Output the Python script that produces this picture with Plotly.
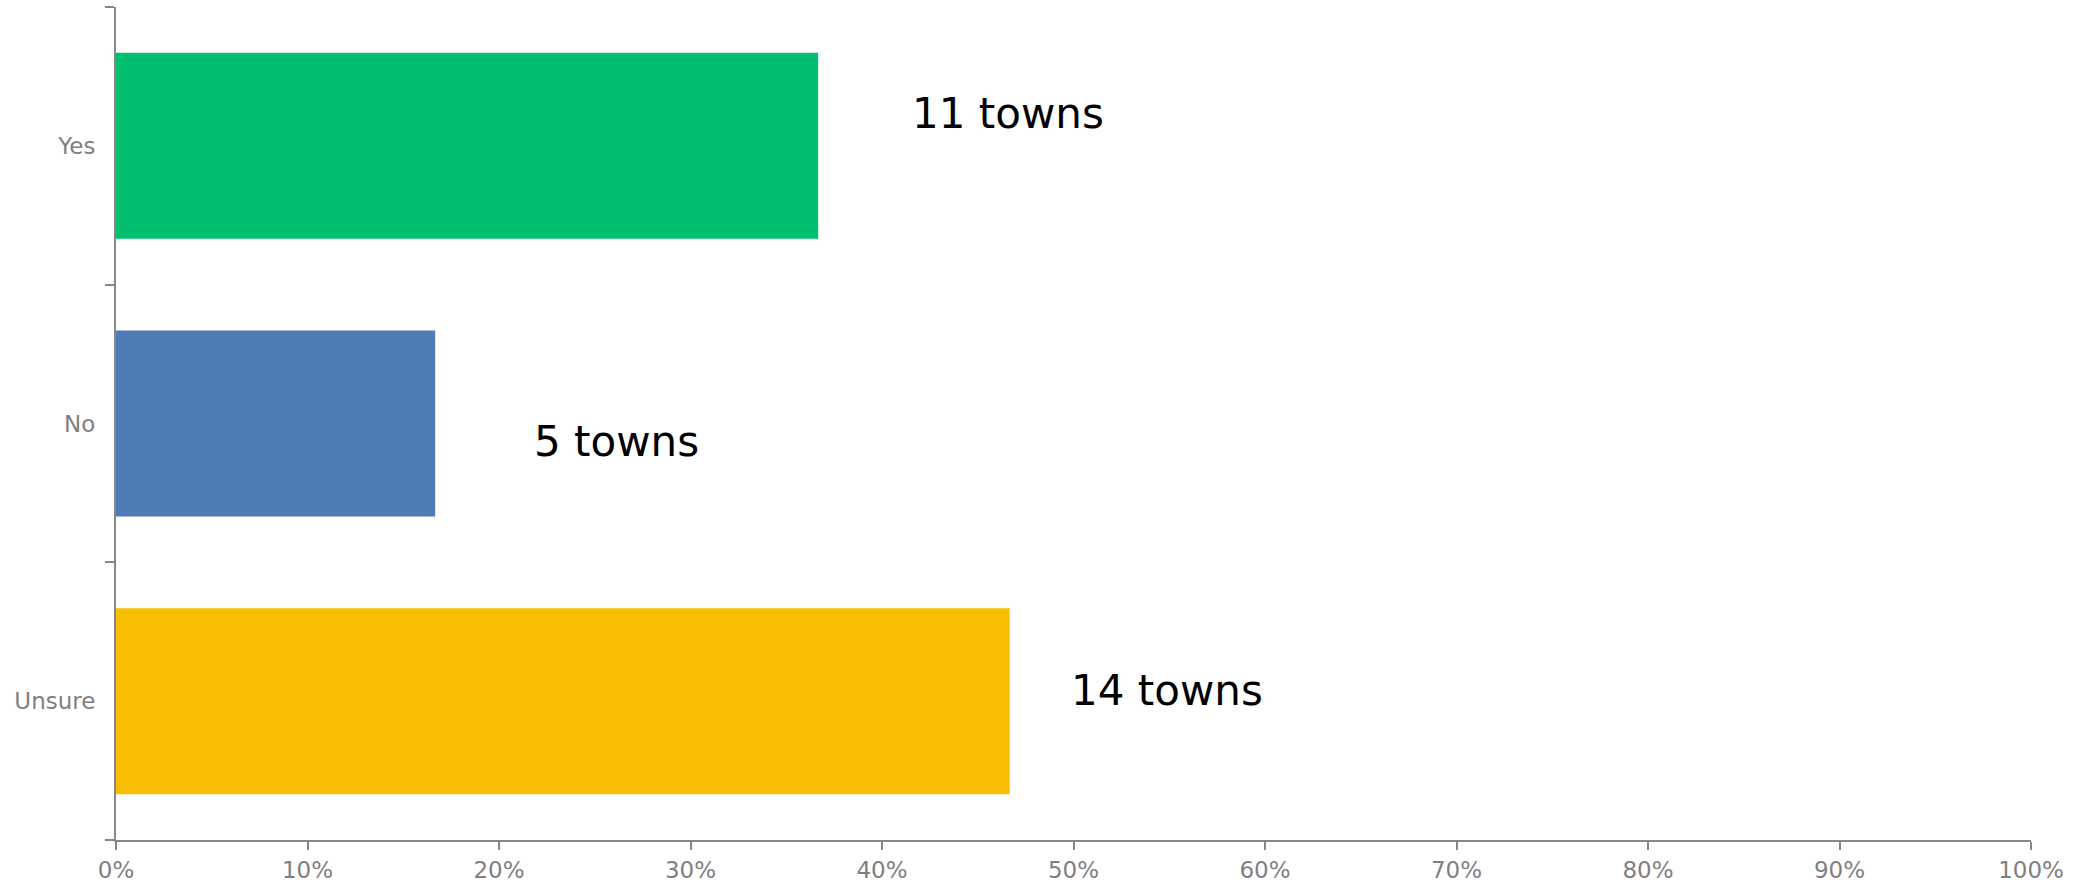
import plotly.graph_objects as go

# Survey answers and the number of towns giving each one
answers = ["Yes", "No", "Unsure"]
towns = [11, 5, 14]
bar_colors = ["#00BF6F", "#4F7CB6", "#F8BE00"]
total_towns = sum(towns)
shares = [t / total_towns for t in towns]

labels = [f"{t} towns" for t in towns]
# pixel offsets of each count label from the end of its bar
label_dx = [92, 97, 59]
label_dy = [32, -18, 11]

axis_grey = "#878787"
base_font = "DejaVu Sans, Liberation Sans, Arial, sans-serif"

fig = go.Figure(
    go.Bar(
        x=shares,
        y=answers,
        orientation="h",
        marker=dict(color=bar_colors, line=dict(width=0)),
        width=0.67,
        hoverinfo="skip",
    )
)

for share, answer, text, dx, dy in zip(shares, answers, labels, label_dx, label_dy):
    fig.add_annotation(
        x=share,
        y=answer,
        text=text,
        showarrow=False,
        xanchor="left",
        yanchor="middle",
        xshift=dx,
        yshift=dy,
        font=dict(family=base_font, size=42, color="#000000"),
    )

fig.update_layout(
    width=2084,
    height=886,
    margin=dict(l=116, r=53, t=7, b=46),
    paper_bgcolor="white",
    plot_bgcolor="white",
    showlegend=False,
    xaxis=dict(
        range=[0, 1],
        dtick=0.1,
        tick0=0,
        tickformat=".0%",
        showgrid=False,
        zeroline=False,
        showline=True,
        linecolor=axis_grey,
        linewidth=2,
        ticks="outside",
        ticklen=8,
        tickwidth=2,
        tickcolor=axis_grey,
        tickfont=dict(family=base_font, size=23, color="#7F7F7F"),
        ticklabelstandoff=0,
        automargin=False,
    ),
    yaxis=dict(
        categoryorder="array",
        categoryarray=answers[::-1],
        showgrid=False,
        zeroline=False,
        showline=True,
        linecolor=axis_grey,
        linewidth=2,
        ticks="outside",
        tickson="boundaries",
        ticklen=9,
        tickwidth=2,
        tickcolor=axis_grey,
        tickfont=dict(family=base_font, size=23, color="#7F7F7F"),
        ticklabelstandoff=14,
        automargin=False,
    ),
)

fig.write_html("out.html")
